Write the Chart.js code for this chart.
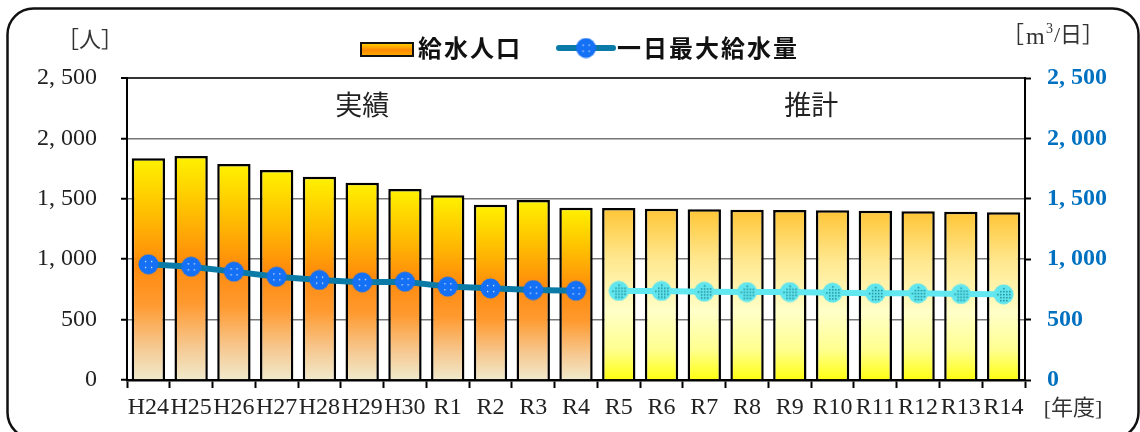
<!DOCTYPE html>
<html>
<head>
<meta charset="utf-8">
<script src="https://cdn.jsdelivr.net/npm/chart.js@4.4.1/dist/chart.umd.min.js"></script>
<style>
  html, body { margin: 0; padding: 0; background: #fff; }
  canvas { display: block; }
</style>
</head>
<body>
<canvas id="chart" width="1140" height="432"></canvas>
<script>
// 年度
const years = ['H24','H25','H26','H27','H28','H29','H30','R1','R2','R3','R4',
               'R5','R6','R7','R8','R9','R10','R11','R12','R13','R14'];
// 給水人口 [人]
const population = [1835, 1854, 1788, 1738, 1683, 1633, 1581, 1529, 1451, 1490, 1426,
                    1424, 1418, 1413, 1410, 1407, 1405, 1402, 1396, 1393, 1388];
// 一日最大給水量 [m3/日] 実績
const maxDailyActual = [958, 938, 897, 855, 828, 809, 814, 773, 759, 745, 739,
                        null, null, null, null, null, null, null, null, null, null];
// 一日最大給水量 [m3/日] 推計
const maxDailyForecast = [null, null, null, null, null, null, null, null, null, null, null,
                          737, 737, 731, 728, 728, 723, 718, 718, 712, 709];
// 軸目盛
const axisMin = 0;
const axisMax = 2500;
const axisStep = 500;
const firstForecast = years.indexOf('R5');

const CJK = "'Noto Sans CJK JP'";
const SERIF = "'Liberation Serif', 'DejaVu Serif'";

// marker images
function makeMarker(fill, dotColor, pattern) {
  const c = document.createElement('canvas');
  c.width = 21; c.height = 21;
  const g = c.getContext('2d');
  g.fillStyle = fill;
  g.beginPath(); g.arc(10.5, 10.5, 10, 0, Math.PI * 2); g.fill();
  g.fillStyle = dotColor;
  if (pattern === 'button') {
    [[7,7],[13,7],[7,13],[13,13]].forEach(([x, y]) => g.fillRect(x, y, 1.3, 1.3));
  } else {
    for (let y = 4; y <= 17; y += 3) {
      for (let x = 4; x <= 17; x += 3) {
        if ((x - 10.5) ** 2 + (y - 10.5) ** 2 <= 44) g.fillRect(x, y, 1.5, 1.5);
      }
    }
  }
  return c;
}
const actualMarker = makeMarker('#1470F5', '#dfe9ff', 'button');
const forecastMarker = makeMarker('#62E6EE', '#1E8C98', 'dots');

function barGradient(ctx) {
  const chart = ctx.chart;
  if (!chart.chartArea || !chart.scales.y) return '#FFA020';
  const y = chart.scales.y;
  const v = population[ctx.dataIndex];
  const top = y.getPixelForValue(v);
  const bottom = y.getPixelForValue(0);
  const g = chart.ctx.createLinearGradient(0, top, 0, bottom);
  if (ctx.dataIndex < firstForecast) {
    g.addColorStop(0, '#FFF200');
    g.addColorStop(0.22, '#FFC400');
    g.addColorStop(0.48, '#FF8A0C');
    g.addColorStop(0.66, '#FF9A30');
    g.addColorStop(0.85, '#F6C890');
    g.addColorStop(1, '#F0EACC');
  } else {
    g.addColorStop(0, '#FFC535');
    g.addColorStop(0.3, '#FFE890');
    g.addColorStop(0.6, '#FFFFC8');
    g.addColorStop(0.82, '#FFFF90');
    g.addColorStop(1, '#FFFF10');
  }
  return g;
}

const decorations = {
  id: 'decorations',
  beforeDraw(chart) {
    const c = chart.ctx;
    c.save();
    c.fillStyle = '#fff';
    c.fillRect(0, 0, chart.width, chart.height);
    c.restore();
  },
  afterDraw(chart) {
    const c = chart.ctx;
    const x = chart.scales.x;
    const area = chart.chartArea;
    c.save();

    // outer frame
    c.strokeStyle = '#111';
    c.lineWidth = 2.5;
    c.beginPath();
    c.roundRect(7.5, 8.5, 1131, 430, 26);
    c.stroke();

    // 実績 / 推計
    c.fillStyle = '#222';
    c.font = `400 27px ${CJK}`;
    c.textAlign = 'center';
    c.textBaseline = 'middle';
    const splitX = x.getPixelForValue(firstForecast - 0.5);
    c.fillText('実績', (area.left + splitX) / 2, 105);
    c.fillText('推計', (splitX + area.right) / 2, 105);

    // units
    c.font = `400 22px ${SERIF}, ${CJK}`;
    c.fillStyle = '#333';
    c.fillText('［人］', 90, 41);
    c.textAlign = 'left';
    c.fillText('［', 1002, 36);
    c.font = `400 24px ${SERIF}`;
    c.fillText('m', 1026, 38);
    c.font = `400 14px ${SERIF}`;
    c.fillText('3', 1046, 29);
    c.font = `400 22px ${SERIF}, ${CJK}`;
    c.fillText('/日］', 1054, 36);
    c.textAlign = 'center';
    c.fillText('[年度]', 1073, 409);

    // legend
    c.textAlign = 'left';
    const ly = 48;
    const sw = c.createLinearGradient(0, 43, 0, 57);
    sw.addColorStop(0, '#FFD400');
    sw.addColorStop(0.5, '#FF8A00');
    sw.addColorStop(1, '#FFB400');
    c.fillStyle = sw;
    c.fillRect(361, 43, 52, 13);
    c.strokeStyle = '#111';
    c.lineWidth = 2;
    c.strokeRect(361, 43, 52, 13);

    c.fillStyle = '#111';
    c.font = `700 24px ${CJK}`;
    if ('letterSpacing' in c) c.letterSpacing = '2px';
    c.fillText('給水人口', 418, ly);

    c.strokeStyle = '#0A7AA6';
    c.lineWidth = 6;
    c.lineCap = 'round';
    c.beginPath();
    c.moveTo(559, ly); c.lineTo(613, ly);
    c.stroke();
    c.drawImage(actualMarker, 586 - 10.5, ly - 10.5);

    c.fillStyle = '#111';
    c.fillText('一日最大給水量', 617, ly);
    c.restore();
  }
};

function fmt(v) {
  return v.toLocaleString('en-US').replace(',', ', ');
}

new Chart(document.getElementById('chart'), {
  type: 'bar',
  data: {
    labels: years,
    datasets: [
      {
        type: 'line',
        label: '一日最大給水量',
        data: maxDailyActual,
        yAxisID: 'y2',
        borderColor: '#0A7AA6',
        borderWidth: 6,
        pointStyle: actualMarker,
        pointRadius: 10,
        spanGaps: false,
        order: 0
      },
      {
        type: 'line',
        label: '一日最大給水量（推計）',
        data: maxDailyForecast,
        yAxisID: 'y2',
        borderColor: '#62E8F0',
        borderWidth: 6,
        pointStyle: forecastMarker,
        pointRadius: 10,
        spanGaps: false,
        order: 0
      },
      {
        type: 'bar',
        label: '給水人口',
        data: population,
        yAxisID: 'y',
        backgroundColor: barGradient,
        borderColor: '#000',
        borderWidth: 2.5,
        barPercentage: 0.78,
        categoryPercentage: 1,
        order: 1
      }
    ]
  },
  options: {
    responsive: false,
    devicePixelRatio: 1,
    animation: false,
    layout: { padding: { top: 78, left: 0, right: 0, bottom: 0 } },
    plugins: {
      legend: { display: false },
      tooltip: { enabled: false }
    },
    scales: {
      x: {
        offset: true,
        afterFit(s) { s.height = 52; },
        border: { display: true, color: '#000', width: 2.5 },
        grid: {
          display: true,
          offset: true,
          drawOnChartArea: false,
          drawTicks: true,
          tickLength: 8,
          tickWidth: 2,
          tickColor: '#000'
        },
        ticks: {
          color: '#222',
          font: { family: SERIF, size: 24 },
          padding: 5,
          maxRotation: 0,
          autoSkip: false
        }
      },
      y: {
        position: 'left',
        min: axisMin,
        max: axisMax,
        afterFit(s) { s.width = 127; },
        border: { display: true, color: '#000', width: 2 },
        grid: {
          color: (ctx) => ctx.tick && ctx.tick.value === axisMax ? '#333' : '#777',
          lineWidth: (ctx) => ctx.tick && ctx.tick.value === axisMax ? 2 : 1.5,
          drawTicks: true,
          tickLength: 6,
          tickWidth: 2,
          tickColor: '#000'
        },
        ticks: {
          stepSize: axisStep,
          color: '#222',
          font: { family: SERIF, size: 24 },
          padding: 24,
          callback: (v) => fmt(v)
        }
      },
      y2: {
        position: 'right',
        min: axisMin,
        max: axisMax,
        afterFit(s) { s.width = 115; },
        border: { display: true, color: '#000', width: 2 },
        grid: {
          drawOnChartArea: false,
          drawTicks: true,
          tickLength: 6,
          tickWidth: 2,
          tickColor: '#000'
        },
        ticks: {
          stepSize: axisStep,
          color: '#0070C0',
          font: { family: SERIF, size: 24, weight: 'bold' },
          padding: 16,
          callback: (v) => fmt(v)
        }
      }
    }
  },
  plugins: [decorations]
});
</script>
</body>
</html>
